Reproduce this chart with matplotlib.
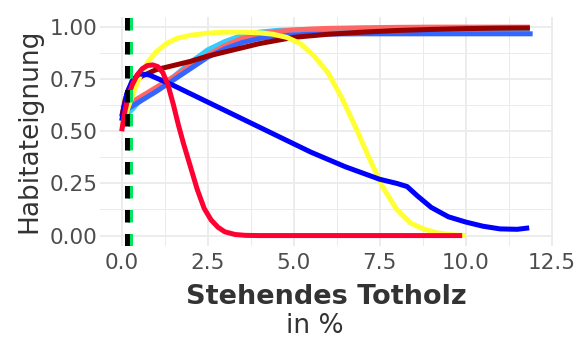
import matplotlib
matplotlib.use("Agg")
import matplotlib.pyplot as plt
from matplotlib.ticker import MultipleLocator

# Kurven
x_blau = [0, 0.15, 0.3, 0.5, 0.8, 1.5, 2.5, 3.5, 4.5, 5.5, 6.5, 7.5, 8.0, 8.3, 8.6, 9.0, 9.5, 10.0, 10.5, 11.0, 11.5, 11.85]
y_blau = [0.55, 0.68, 0.74, 0.775, 0.77, 0.72, 0.64, 0.56, 0.48, 0.40, 0.33, 0.27, 0.25, 0.235, 0.19, 0.135, 0.09, 0.065, 0.045, 0.032, 0.03, 0.037]

x_rot = [0, 0.1, 0.2, 0.3, 0.45, 0.6, 0.75, 0.9, 1.05, 1.2, 1.35, 1.5, 1.65, 1.8, 2.0, 2.2, 2.4, 2.6, 2.8, 3.0, 3.3, 3.6, 4.0, 5.0, 6.0, 7.0, 8.0, 9.0, 9.9]
y_rot = [0.50, 0.60, 0.67, 0.72, 0.77, 0.80, 0.815, 0.818, 0.81, 0.78, 0.72, 0.63, 0.53, 0.44, 0.33, 0.22, 0.13, 0.075, 0.04, 0.018, 0.005, 0.001, 0, 0, 0, 0, 0, 0, 0]

x_gelb = [0, 0.2, 0.4, 0.6, 0.8, 1.0, 1.3, 1.6, 2.0, 2.5, 3.0, 3.5, 4.0, 4.4, 4.8, 5.2, 5.6, 6.0, 6.4, 6.8, 7.2, 7.6, 8.0, 8.4, 8.8, 9.2, 9.6, 10.0]
y_gelb = [0.53, 0.62, 0.71, 0.79, 0.84, 0.88, 0.92, 0.945, 0.96, 0.97, 0.975, 0.975, 0.972, 0.965, 0.95, 0.92, 0.86, 0.78, 0.66, 0.52, 0.37, 0.23, 0.125, 0.06, 0.03, 0.012, 0.004, 0.0]

x_dunkelrot = [0, 0.1, 0.2, 0.3, 0.45, 0.6, 0.8, 1.0, 1.5, 2.0, 2.5, 3.0, 3.5, 4.0, 4.5, 5.0, 6.0, 7.0, 8.0, 9.0, 10.0, 11.0, 11.87]
y_dunkelrot = [0.57, 0.65, 0.70, 0.73, 0.75, 0.765, 0.78, 0.795, 0.815, 0.835, 0.86, 0.88, 0.90, 0.92, 0.935, 0.95, 0.965, 0.975, 0.983, 0.988, 0.992, 0.994, 0.995]

x_hellblau = [0, 0.5, 1.0, 1.5, 2.0, 2.5, 3.0, 3.5, 4.0, 4.5, 5.0, 6.0, 7.0, 8.0, 9.0, 10.0, 11.0, 11.87]
y_hellblau = [0.55, 0.64, 0.70, 0.76, 0.83, 0.89, 0.93, 0.96, 0.975, 0.983, 0.986, 0.988, 0.988, 0.988, 0.988, 0.988, 0.988, 0.988]

x_lachs = [0, 0.5, 1.0, 1.5, 2.0, 2.5, 3.0, 3.5, 4.0, 4.5, 5.0, 5.5, 6.0, 7.0, 8.0, 9.0, 10.0, 11.0, 11.87]
y_lachs = [0.61, 0.66, 0.71, 0.76, 0.815, 0.865, 0.91, 0.945, 0.965, 0.978, 0.985, 0.99, 0.993, 0.996, 0.998, 0.999, 0.999, 0.999, 0.999]

x_koenigsblau = [0, 0.5, 1.0, 1.5, 2.0, 2.5, 3.0, 3.5, 4.0, 4.5, 5.0, 5.5, 6.0, 7.0, 8.0, 9.0, 10.0, 11.0, 11.95]
y_koenigsblau = [0.59, 0.64, 0.69, 0.745, 0.80, 0.855, 0.895, 0.925, 0.945, 0.955, 0.962, 0.965, 0.966, 0.967, 0.967, 0.967, 0.967, 0.967, 0.967]

# senkrechte Markierungen
x_gruen = 0.25
x_schwarz = 0.15

fig = plt.figure(figsize=(5.77, 3.41), dpi=100)
ax = fig.add_axes([0.1733, 0.2786, 0.785, 0.673])

lw = 3.6
ax.plot(x_hellblau, y_hellblau, color="#33CCFF", lw=lw, solid_capstyle="butt")
ax.plot(x_lachs, y_lachs, color="#FF6666", lw=lw, solid_capstyle="butt")
ax.plot(x_koenigsblau, y_koenigsblau, color="#3366FF", lw=lw, solid_capstyle="butt")
ax.plot(x_dunkelrot, y_dunkelrot, color="#990000", lw=lw, solid_capstyle="butt")
ax.plot(x_gelb, y_gelb, color="#FFFF33", lw=lw, solid_capstyle="butt")
ax.plot(x_blau, y_blau, color="#0000FF", lw=lw, solid_capstyle="butt")
ax.plot(x_rot, y_rot, color="#FF0033", lw=lw, solid_capstyle="butt")

# gestrichelte Linien, von unten nach oben gezeichnet
ax.plot([x_gruen, x_gruen], [-0.05, 1.05], color="#00E65C", lw=lw, ls=(0, (2.5, 2.3)))
ax.plot([x_schwarz, x_schwarz], [-0.05, 1.05], color="black", lw=lw, ls=(0, (2.5, 2.3)))

ax.set_xlim(-0.63, 12.54)
ax.set_ylim(-0.05, 1.05)
ax.xaxis.set_major_locator(MultipleLocator(2.5))
ax.xaxis.set_minor_locator(MultipleLocator(1.25))
ax.yaxis.set_major_locator(MultipleLocator(0.25))
ax.yaxis.set_minor_locator(MultipleLocator(0.125))
ax.xaxis.set_major_formatter(lambda v, p: f"{v:.1f}")
ax.yaxis.set_major_formatter(lambda v, p: f"{v:.2f}")

ax.grid(which="major", color="#EBEBEB", lw=1.3)
ax.grid(which="minor", color="#EBEBEB", lw=0.7)
ax.set_axisbelow(True)
for s in ax.spines.values():
    s.set_visible(False)
ax.tick_params(which="both", length=0)
ax.tick_params(axis="x", labelsize=15.5, labelcolor="#4D4D4D", pad=5)
ax.tick_params(axis="y", labelsize=15.5, labelcolor="#4D4D4D", pad=2)

ax.set_ylabel("Habitateignung", fontsize=19, color="#333333", labelpad=5)
fig.text(0.565, 0.128, "Stehendes Totholz", fontsize=19.5, fontweight="bold",
         color="#333333", ha="center", va="center")
fig.text(0.546, 0.045, "in %", fontsize=19, color="#333333", ha="center", va="center")

fig.savefig("out.png", dpi=100)
